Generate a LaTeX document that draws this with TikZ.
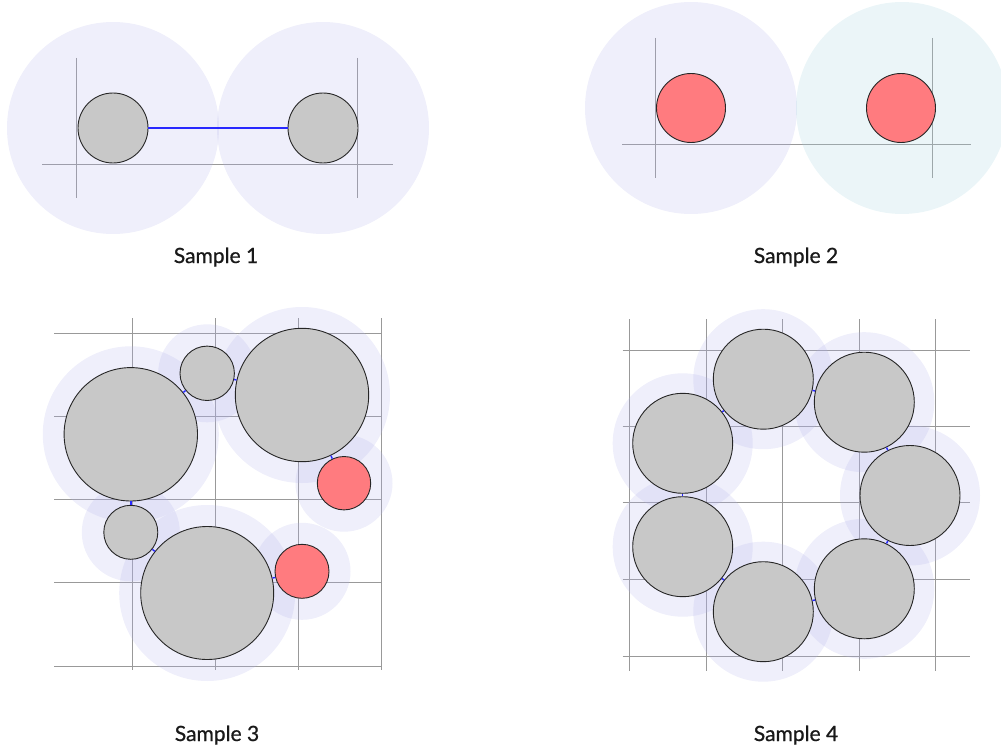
\documentclass[tikz,border=0pt]{standalone}
\usepackage{fontspec}
\setmainfont{Lato}
\newfontfamily\capfont{Lato}[FakeBold=0.8]
\begin{document}
\begin{tikzpicture}[x=1pt,y=-1pt,
  gridline/.style={draw=black!40, line width=1pt},
  halo/.style={fill={rgb,255:red,180;green,180;blue,235}, fill opacity=0.22},
  halocyan/.style={fill={rgb,255:red,170;green,215;blue,225}, fill opacity=0.24},
  ball/.style={circle, draw=black!85, line width=0.9pt, fill={rgb,255:red,200;green,200;blue,200}, inner sep=0pt},
  redball/.style={circle, draw=black!85, line width=0.9pt, fill={rgb,255:red,255;green,123;blue,127}, inner sep=0pt},
  link/.style={draw={rgb,255:red,40;green,40;blue,255}, line width=1.4pt},
  caption/.style={font=\capfont\fontsize{21}{24}\selectfont, inner sep=0pt, anchor=base, text=black!90}
]
\useasboundingbox (0,0) rectangle (1001,749);

% ---------- Sample 1 ----------
\draw[gridline] (76.7,58) -- (76.7,198);
\draw[gridline] (357,58) -- (357,198);
\draw[gridline] (42,164) -- (393,164);
\fill[halo] (113,128) circle (106);
\fill[halo] (323,128) circle (106);
\node[ball, minimum size=70pt] (s1a) at (113,128) {};
\node[ball, minimum size=70pt] (s1b) at (323,128) {};
\draw[link] (s1a) -- (s1b);
\node[caption] (cap1) at (216,263) {Sample 1};

% ---------- Sample 2 ----------
\draw[gridline] (655,38) -- (655,178);
\draw[gridline] (932,38) -- (932,178);
\draw[gridline] (622,145) -- (971,145);
\fill[halo] (691,108) circle (106);
\fill[halocyan] (902,108) circle (106);
\node[redball, minimum size=69pt] (s2a) at (691,108) {};
\node[redball, minimum size=69pt] (s2b) at (901,108) {};
\node[caption] (cap2) at (796,263) {Sample 2};

% ---------- Sample 3 ----------
\foreach \xx in {132.7,215.7,298.5,381.3}
  \draw[gridline] (\xx,318) -- (\xx,670);
\foreach \yy in {333,416.7,499.3,582.7,666}
  \draw[gridline] (54,\yy) -- (381.3,\yy);
\fill[halo] (130.8,434.3) circle (88);
\fill[halo] (207.2,373.3) circle (49);
\fill[halo] (302,395) circle (88);
\fill[halo] (344,483.2) circle (48.5);
\fill[halo] (130.8,532.3) circle (49);
\fill[halo] (207.2,593) circle (88);
\fill[halo] (302,571.3) circle (48.5);
\node[ball, minimum size=133.4pt] (s3a) at (130.8,434.3) {};
\node[ball, minimum size=54.4pt] (s3b) at (207.2,373.3) {};
\node[ball, minimum size=133.4pt] (s3c) at (302,395) {};
\node[redball, minimum size=53.4pt] (s3d) at (344,483.2) {};
\node[ball, minimum size=54pt] (s3e) at (130.8,532.3) {};
\node[ball, minimum size=133pt] (s3f) at (207.2,593) {};
\node[redball, minimum size=54pt] (s3g) at (302,571.3) {};
\draw[link] (s3a) -- (s3b);
\draw[link] (s3b) -- (s3c);
\draw[link] (s3c) -- (s3d);
\draw[link] (s3a) -- (s3e);
\draw[link] (s3e) -- (s3f);
\draw[link] (s3f) -- (s3g);
\node[caption] (cap3) at (217,741) {Sample 3};

% ---------- Sample 4 ----------
\foreach \xx in {629.3,706,782.3,859,935.7}
  \draw[gridline] (\xx,319.3) -- (\xx,670.7);
\foreach \yy in {350,426.7,502.7,579,656}
  \draw[gridline] (622.7,\yy) -- (970,\yy);
\foreach \cx/\cy in {763.3/379.2, 864.3/402.2, 910/495.5, 864.3/588.8, 763.3/611.7, 682.7/546.7, 682.7/443.3}
  \fill[halo] (\cx,\cy) circle (70);
\node[ball, minimum size=100pt] (s4a) at (763.3,379.2) {};
\node[ball, minimum size=100pt] (s4b) at (864.3,402.2) {};
\node[ball, minimum size=100pt] (s4c) at (910,495.5) {};
\node[ball, minimum size=100pt] (s4d) at (864.3,588.8) {};
\node[ball, minimum size=100pt] (s4e) at (763.3,611.7) {};
\node[ball, minimum size=100pt] (s4f) at (682.7,546.7) {};
\node[ball, minimum size=100pt] (s4g) at (682.7,443.3) {};
\draw[link] (s4a) -- (s4b);
\draw[link] (s4b) -- (s4c);
\draw[link] (s4c) -- (s4d);
\draw[link] (s4d) -- (s4e);
\draw[link] (s4e) -- (s4f);
\draw[link] (s4f) -- (s4g);
\draw[link] (s4g) -- (s4a);
\node[caption] (cap4) at (796,741) {Sample 4};
\end{tikzpicture}
\end{document}
